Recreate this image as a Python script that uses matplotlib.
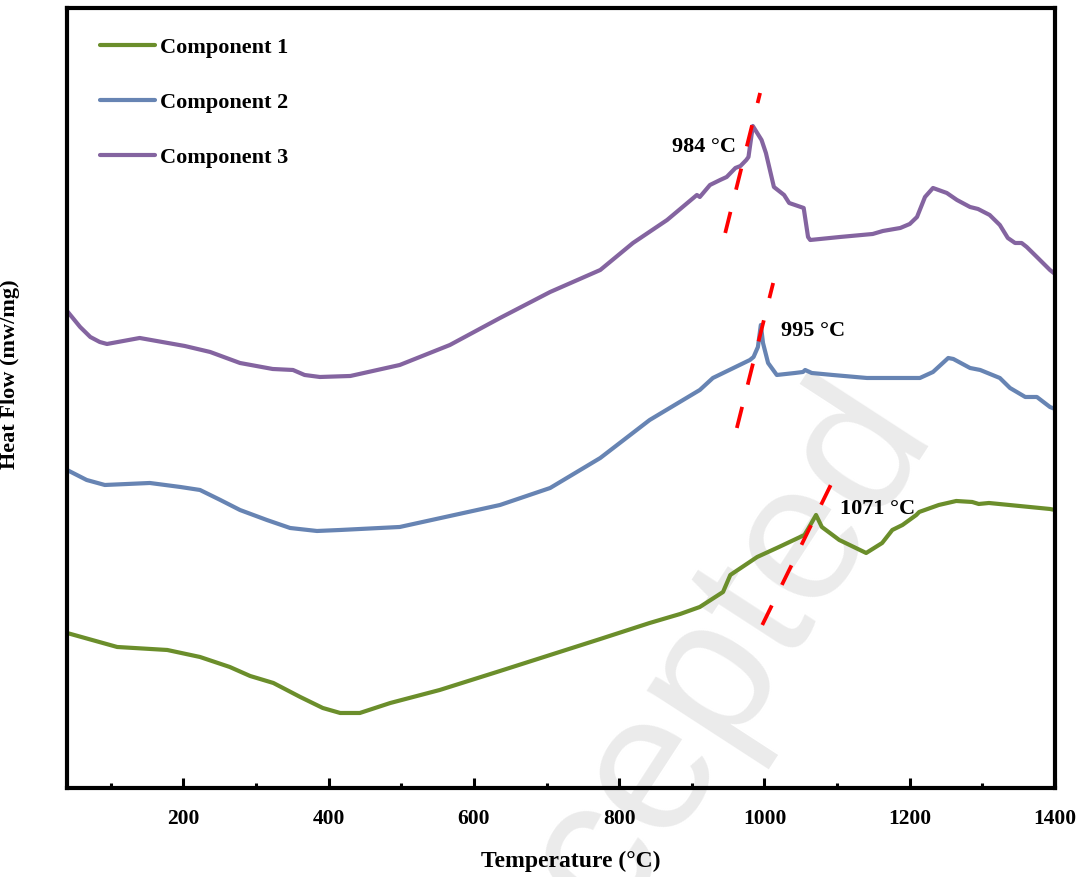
import matplotlib
matplotlib.use("Agg")
import matplotlib.pyplot as plt
from matplotlib.ticker import MultipleLocator, NullLocator

plt.rcParams['font.family'] = ['Liberation Serif', 'DejaVu Serif']
plt.rcParams['font.weight'] = 'bold'

# DSC traces, temperature in degC and heat flow in arbitrary (stacked) units
t_comp1 = [40, 109, 178, 223, 264, 292, 324, 361, 392, 416, 443, 485, 553, 636, 705,
           774, 842, 884, 911, 943, 953, 990, 1020, 1055, 1060, 1071, 1079, 1103, 1140,
           1162, 1176, 1190, 1209, 1213, 1240, 1264, 1286, 1295, 1309, 1393, 1400]
hf_comp1 = [1.55, 1.41, 1.38, 1.31, 1.21, 1.12, 1.05, 0.91, 0.80, 0.75, 0.75, 0.85, 0.98,
            1.17, 1.33, 1.49, 1.65, 1.74, 1.81, 1.96, 2.13, 2.31, 2.41, 2.53, 2.59, 2.73,
            2.61, 2.48, 2.35, 2.45, 2.58, 2.63, 2.73, 2.76, 2.83, 2.87, 2.86, 2.84, 2.85,
            2.79, 2.78]

t_comp2 = [40, 67, 92, 154, 196, 223, 251, 278, 315, 347, 384, 416, 498, 636, 705, 774,
           842, 911, 929, 980, 985, 991, 995, 998, 1005, 1017, 1042, 1053, 1056, 1065,
           1094, 1141, 1187, 1214, 1232, 1253, 1260, 1283, 1297, 1324, 1338, 1359, 1375,
           1393, 1400]
hf_comp2 = [3.18, 3.08, 3.03, 3.05, 3.01, 2.98, 2.88, 2.78, 2.68, 2.60, 2.57, 2.58, 2.61,
            2.83, 3.00, 3.30, 3.68, 3.98, 4.10, 4.28, 4.31, 4.41, 4.63, 4.45, 4.25, 4.13,
            4.15, 4.16, 4.18, 4.15, 4.13, 4.10, 4.10, 4.10, 4.16, 4.30, 4.29, 4.20, 4.18,
            4.10, 4.00, 3.91, 3.91, 3.81, 3.79]

t_comp3 = [40, 58, 72, 85, 95, 140, 202, 237, 278, 323, 351, 367, 388, 430, 498, 567, 636,
           705, 774, 819, 866, 907, 911, 925, 939, 948, 960, 967, 975, 978, 984, 996, 1002,
           1013, 1027, 1034, 1054, 1060, 1063, 1104, 1149, 1163, 1187, 1200, 1210, 1221,
           1232, 1251, 1265, 1283, 1294, 1310, 1324, 1335, 1345, 1354, 1361, 1375, 1393,
           1400]
hf_comp3 = [4.77, 4.61, 4.51, 4.46, 4.44, 4.50, 4.42, 4.36, 4.25, 4.19, 4.18, 4.13, 4.11,
            4.12, 4.23, 4.43, 4.70, 4.96, 5.18, 5.45, 5.68, 5.93, 5.91, 6.03, 6.08, 6.11,
            6.20, 6.22, 6.28, 6.31, 6.62, 6.48, 6.35, 6.01, 5.93, 5.85, 5.80, 5.51, 5.48,
            5.51, 5.54, 5.57, 5.60, 5.64, 5.71, 5.91, 6.00, 5.95, 5.88, 5.81, 5.79, 5.73,
            5.63, 5.50, 5.45, 5.45, 5.41, 5.31, 5.18, 5.14]

peak_labels = ['1071 \u00b0C', '995 \u00b0C', '984 \u00b0C']
label_pos = [(1156, 2.79), (1067, 4.57), (917, 6.41)]
# red guide lines through each exothermic peak
guide_t = [(997, 1100), (962, 1012), (946, 994)]
guide_hf = [(1.63, 3.16), (3.60, 5.05), (5.55, 6.95)]

names = ['Component 1', 'Component 2', 'Component 3']
colors = ['#6b8e2b', '#6784b3', '#8464a0']

fig = plt.figure(figsize=(10.78, 8.77), dpi=100)
ax = fig.add_axes([0.0622, 0.1015, 0.9165, 0.8894])
ax.patch.set_alpha(0)

# faint journal watermark behind everything
fig.text(0.622, 0.142, 'Accepted', family=['Liberation Sans', 'DejaVu Sans'],
         fontweight='normal', fontsize=142, color='#ebebeb', rotation=57,
         ha='center', va='center', rotation_mode='anchor', zorder=-5)

series = [(t_comp1, hf_comp1), (t_comp2, hf_comp2), (t_comp3, hf_comp3)]
for (t, hf), name, c in zip(series, names, colors):
    ax.plot(t, hf, color=c, lw=3, label=name, solid_joinstyle='round',
            solid_capstyle='round')

for gt, gh in zip(guide_t, guide_hf):
    ax.plot(gt, gh, color='#ff0000', lw=2.7, linestyle=(0, (5.8, 6.1)), zorder=4)

for txt, (x, y) in zip(peak_labels, label_pos):
    ax.text(x, y, txt, fontsize=16, fontweight='bold', ha='center', va='center')

ax.set_xlim(40, 1400)
ax.set_ylim(0, 7.8)
ax.xaxis.set_major_locator(MultipleLocator(200))
ax.xaxis.set_minor_locator(MultipleLocator(100))
ax.yaxis.set_major_locator(NullLocator())
ax.tick_params(axis='x', which='major', direction='in', length=7, width=2.2,
               labelsize=15.5, pad=15, top=False)
ax.tick_params(axis='x', which='minor', direction='in', length=3.5, width=2.2, top=False)
for lab in ax.get_xticklabels():
    lab.set_fontweight('bold')
for sp in ax.spines.values():
    sp.set_linewidth(3)

ax.set_xlabel('Temperature (\u00b0C)', fontsize=17, fontweight='bold')
ax.xaxis.set_label_coords(0.51, -0.080)
ax.set_ylabel('Heat Flow (mw/mg)', fontsize=16, fontweight='bold')
ax.yaxis.set_label_coords(-0.048, 0.53)

ax.legend(loc='upper left', bbox_to_anchor=(0.033, 0.962), frameon=False,
          fontsize=16, handlelength=2.5, handletextpad=0.2, labelspacing=1.55,
          borderpad=0, borderaxespad=0)

fig.savefig('out.png', dpi=100)
